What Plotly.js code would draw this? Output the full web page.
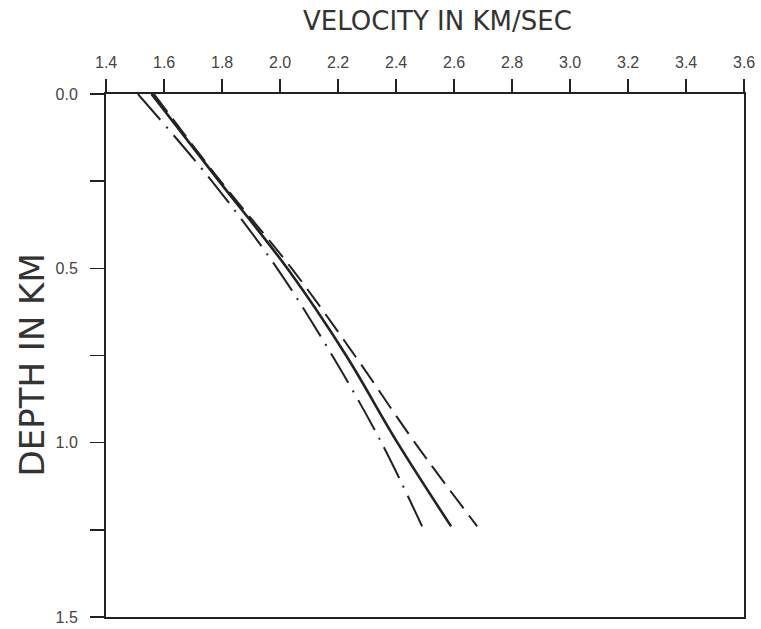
<!DOCTYPE html>
<html>
<head>
<meta charset="utf-8">
<script src="https://cdn.plot.ly/plotly-3.0.1.min.js"></script>
<style>html,body{margin:0;padding:0;background:#fff;}#chart{width:761px;height:629px;}</style>
</head>
<body>
<div id="chart"></div>
<script>
var depth = [0, 0.25, 0.5, 0.75, 1.0, 1.24];
var velSolid = [1.557, 1.79, 2.025, 2.228, 2.405, 2.59];
var velDashed = [1.565, 1.795, 2.04, 2.258, 2.465, 2.68];
var velDashDot = [1.51, 1.765, 1.99, 2.18, 2.35, 2.49];
var xTicks = [1.4, 1.6, 1.8, 2.0, 2.2, 2.4, 2.6, 2.8, 3.0, 3.2, 3.4, 3.6];
var yTicks = [0.0, 0.5, 1.0, 1.5];

var ink = '#222';
var traces = [
  {x: velSolid, y: depth, mode: 'lines', line: {color: ink, width: 2.6, shape: 'spline'}},
  {x: velDashed, y: depth, mode: 'lines', line: {color: ink, width: 2, dash: '22px,9px', shape: 'spline'}},
  {x: velDashDot, y: depth, mode: 'lines', line: {color: ink, width: 2, dash: '34px,9px,2px,9px', shape: 'spline'}}
];

var tickFont = {family: 'Liberation Sans, Arial, sans-serif', size: 16, color: '#444'};
var titleFamily = 'DejaVu Sans, Liberation Sans, sans-serif';

var annotations = [{
  text: 'VELOCITY IN KM/SEC', showarrow: false,
  xref: 'paper', yref: 'paper', x: 0.519, y: 1.1396,
  xanchor: 'center', yanchor: 'middle',
  font: {family: titleFamily, size: 26, color: '#333'}
}, {
  text: 'DEPTH IN KM', textangle: -90, showarrow: false,
  xref: 'paper', yref: 'paper', x: -0.1167, y: 0.482,
  xanchor: 'center', yanchor: 'middle',
  font: {family: titleFamily, size: 34, color: '#333'}
}];
xTicks.forEach(function (v) {
  annotations.push({
    text: v.toFixed(1), showarrow: false,
    xref: 'x', yref: 'paper', x: v, y: 1.0593,
    xanchor: 'center', yanchor: 'middle',
    font: tickFont
  });
});

var layout = {
  width: 761, height: 629,
  margin: {l: 105.5, r: 17, t: 94, b: 12},
  paper_bgcolor: '#fff', plot_bgcolor: '#fff',
  showlegend: false,
  xaxis: {
    side: 'top', range: [1.4, 3.6], tickvals: xTicks,
    showticklabels: false,
    ticks: 'outside', ticklen: 13, tickwidth: 1.5, tickcolor: ink,
    showline: true, linewidth: 2, linecolor: ink, mirror: true,
    showgrid: false, zeroline: false
  },
  yaxis: {
    range: [1.5, 0], tickvals: yTicks,
    ticktext: yTicks.map(function(v){return v.toFixed(1);}),
    ticks: 'outside', ticklen: 14, tickwidth: 1.5, tickcolor: ink,
    ticklabelstandoff: 9,
    minor: {dtick: 0.25, ticks: 'outside', ticklen: 14, tickwidth: 1.5, tickcolor: ink, showgrid: false},
    showline: true, linewidth: 2, linecolor: ink, mirror: true,
    showgrid: false, zeroline: false, tickfont: tickFont
  },
  annotations: annotations
};
Plotly.newPlot('chart', traces, layout, {staticPlot: true, displayModeBar: false});
</script>
</body>
</html>
